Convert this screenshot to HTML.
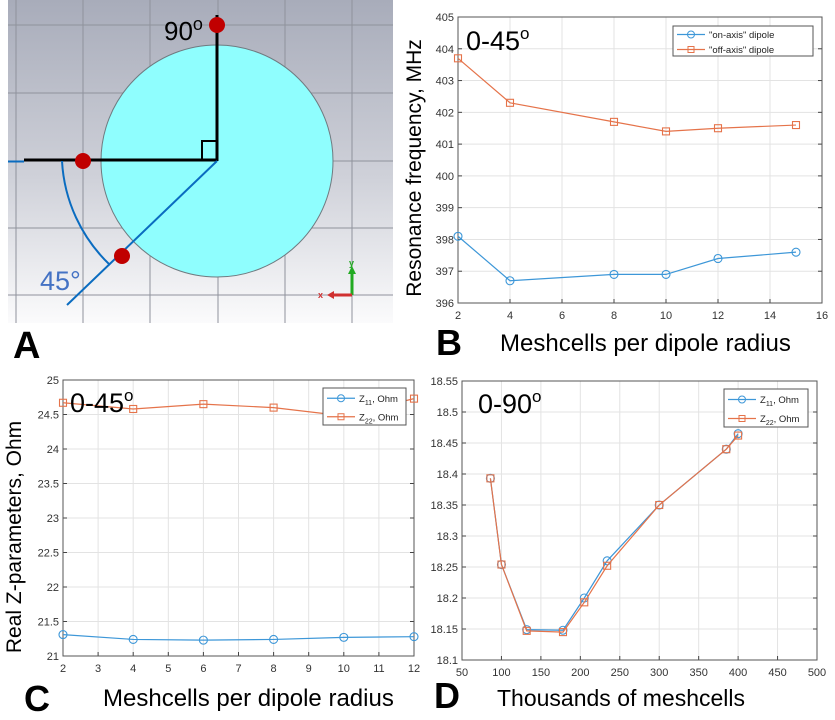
<!DOCTYPE html>
<html><head><meta charset="utf-8">
<style>
html,body{margin:0;padding:0;background:#fff;}
svg{display:block;font-family:"Liberation Sans",Arial,sans-serif;}
</style></head>
<body>
<svg id="fig" width="835" height="720" viewBox="0 0 835 720">
<defs>
<linearGradient id="bg" x1="0" y1="0" x2="0" y2="1">
<stop offset="0" stop-color="#a8acba"/><stop offset="0.55" stop-color="#cfd1d9"/><stop offset="1" stop-color="#fbfbfc"/>
</linearGradient>
</defs>
<g>
<rect x="8" y="0" width="385" height="323" fill="url(#bg)"/>
<g stroke="#8f929c" stroke-width="1">
<line x1="16" y1="0" x2="16" y2="323"/><line x1="83" y1="0" x2="83" y2="323"/><line x1="150" y1="0" x2="150" y2="323"/>
<line x1="218" y1="0" x2="218" y2="323"/><line x1="285" y1="0" x2="285" y2="323"/><line x1="352" y1="0" x2="352" y2="323"/>
<line x1="8" y1="25" x2="393" y2="25"/><line x1="8" y1="93" x2="393" y2="93"/><line x1="8" y1="161" x2="393" y2="161"/>
<line x1="8" y1="228" x2="393" y2="228"/><line x1="8" y1="295" x2="393" y2="295"/>
</g>
<circle cx="217" cy="161" r="116" fill="#8ffefe" stroke="#6f7a80" stroke-width="1"/>
<line x1="217" y1="15" x2="217" y2="161" stroke="#000" stroke-width="3"/>
<line x1="24" y1="160" x2="217" y2="160" stroke="#000" stroke-width="3"/>
<polyline points="202,160 202,141 217,141" fill="none" stroke="#000" stroke-width="2"/>
<line x1="8" y1="161.5" x2="24" y2="161.5" stroke="#0a6cc0" stroke-width="2"/>
<line x1="217" y1="161" x2="67" y2="305" stroke="#0a6cc0" stroke-width="2"/>
<path d="M62,161 A155,155 0 0 0 110,265" fill="none" stroke="#0a6cc0" stroke-width="2"/>
<circle cx="217" cy="25" r="8" fill="#c00000"/>
<circle cx="83" cy="161" r="8" fill="#c00000"/>
<circle cx="122" cy="256" r="8" fill="#c00000"/>
<text x="164" y="40" font-size="26" fill="#000">90<tspan font-size="18" dy="-10">o</tspan></text>
<text x="40" y="290" font-size="27" fill="#4472c4">45°</text>
<line x1="352" y1="295" x2="352" y2="272" stroke="#22aa22" stroke-width="3"/>
<polygon points="348,274 356,274 352,266" fill="#22aa22"/>
<line x1="352" y1="295" x2="332" y2="295" stroke="#d03030" stroke-width="3"/>
<polygon points="334,291 334,299 327,295" fill="#d03030"/>
<text x="349" y="266" font-size="9" fill="#22aa22" font-weight="bold">y</text>
<text x="318" y="298" font-size="9" fill="#d03030" font-weight="bold">x</text>
<text x="13" y="358" font-size="38" font-weight="bold">A</text>
</g>
<g id="charts"></g>
</svg>
<script>
// Panel B data
const bX = [2, 4, 8, 10, 12, 15];
const bOnAxis = [398.1, 396.7, 396.9, 396.9, 397.4, 397.6];
const bOffAxis = [403.7, 402.3, 401.7, 401.4, 401.5, 401.6];
const bXTicks = [2, 4, 6, 8, 10, 12, 14, 16];
const bYTicks = [396, 397, 398, 399, 400, 401, 402, 403, 404, 405];
// Panel C data
const cX = [2, 4, 6, 8, 10, 12];
const cZ11 = [21.31, 21.24, 21.23, 21.24, 21.27, 21.28];
const cZ22 = [24.67, 24.58, 24.65, 24.60, 24.48, 24.73];
const cXTicks = [2, 3, 4, 5, 6, 7, 8, 9, 10, 11, 12];
const cYTicks = [21, 21.5, 22, 22.5, 23, 23.5, 24, 24.5, 25];
// Panel D data
const dX = [86, 100, 132, 178, 205, 234, 300, 385, 400];
const dZ11 = [18.393, 18.254, 18.149, 18.148, 18.200, 18.260, 18.350, 18.440, 18.465];
const dZ22 = [18.393, 18.254, 18.147, 18.145, 18.193, 18.252, 18.350, 18.440, 18.462];
const dXTicks = [50, 100, 150, 200, 250, 300, 350, 400, 450, 500];
const dYTicks = [18.1, 18.15, 18.2, 18.25, 18.3, 18.35, 18.4, 18.45, 18.5, 18.55];

const NS = "http://www.w3.org/2000/svg";
const root = document.getElementById("charts");
const BLUE = "#3d97d8", ORANGE = "#e5734a";
function mk(tag, attrs, parent) {
  const e = document.createElementNS(NS, tag);
  for (const k in attrs) e.setAttribute(k, attrs[k]);
  (parent || root).appendChild(e);
  return e;
}
function chart(id, box, xd, yd, xt, yt, ylab, series, fmt) {
  const g = mk("g", {});
  
  
  const sx = v => box.x0 + (v - xd[0]) / (xd[1] - xd[0]) * (box.x1 - box.x0);
  const sy = v => box.y1 - (v - yd[0]) / (yd[1] - yd[0]) * (box.y1 - box.y0);
  mk("rect", {x: box.x0, y: box.y0, width: box.x1 - box.x0, height: box.y1 - box.y0, fill: "#fff"}, g);
  xt.forEach(t => {
    const x = sx(t);
    const l = mk("line", {x1: x, x2: x, y1: box.y0, y2: box.y1, stroke: "#e3e3e3"}, g);
    
    
    mk("line", {x1: x, x2: x, y1: box.y1, y2: box.y1 - 4, stroke: "#444"}, g);
    const tx = mk("text", {x: x, y: box.y1 + 16, "font-size": 11, fill: "#333", "text-anchor": "middle"}, g);
    
    
    tx.textContent = t;
  });
  yt.forEach(t => {
    const y = sy(t);
    const l = mk("line", {x1: box.x0, x2: box.x1, y1: y, y2: y, stroke: "#e3e3e3"}, g);
    
    
    mk("line", {x1: box.x0, x2: box.x0 + 4, y1: y, y2: y, stroke: "#444"}, g);
    mk("line", {x1: box.x1, x2: box.x1 - 4, y1: y, y2: y, stroke: "#444"}, g);
    const tx = mk("text", {x: box.x0 - 4, y: y + 4, "font-size": 11, fill: "#333", "text-anchor": "end"}, g);
    
    
    tx.textContent = fmt ? fmt(t) : t;
  });
  const fr = mk("rect", {x: box.x0, y: box.y0, width: box.x1 - box.x0, height: box.y1 - box.y0, fill: "none", stroke: "#555", "stroke-width": 1}, g);
  
  
  series.forEach(s => {
    const pts = s.x.map((v, i) => sx(v) + "," + sy(s.y[i])).join(" ");
    const pl = mk("polyline", {points: pts, fill: "none", stroke: s.color, "stroke-width": 1.2}, g);
    
    
    s.x.forEach((v, i) => {
      const cx = sx(v), cy = sy(s.y[i]);
      let m;
      if (s.marker === "o") m = mk("circle", {cx: cx, cy: cy, r: 4, fill: "none", stroke: s.color, "stroke-width": 1.1}, g);
      else m = mk("rect", {x: cx - 3.5, y: cy - 3.5, width: 7, height: 7, fill: "none", stroke: s.color, "stroke-width": 1.1}, g);
      
      
    });
  });
  return g;
}
function legend(g, x, y, w, h, items, fs) {
  const lg = mk("g", {}, g);
  
  
  mk("rect", {x: x, y: y, width: w, height: h, fill: "#fff", stroke: "#555"}, lg);
  items.forEach((it, i) => {
    const yy = y + h * (i + 0.5) / items.length + 1;
    mk("line", {x1: x + 4, x2: x + 32, y1: yy, y2: yy, stroke: it.color, "stroke-width": 1.2}, lg);
    if (it.marker === "o") mk("circle", {cx: x + 18, cy: yy, r: 3.5, fill: "none", stroke: it.color}, lg);
    else mk("rect", {x: x + 15, y: yy - 3, width: 6, height: 6, fill: "none", stroke: it.color}, lg);
    const t = mk("text", {x: x + 36, y: yy + 3.5, "font-size": fs, fill: "#222"}, lg);
    
    
    t.innerHTML = it.label;
  });
}
function txt(x, y, s, attrs, name) {
  const t = mk("text", Object.assign({x: x, y: y}, attrs));
  
  
  t.innerHTML = s;
  return t;
}

// Panel B
const gB = chart("panel-b-chart", {x0: 458, x1: 822, y0: 17, y1: 303}, [2, 16], [396, 405], bXTicks, bYTicks, "",
  [{name: "on-axis", x: bX, y: bOnAxis, color: BLUE, marker: "o"},
   {name: "off-axis", x: bX, y: bOffAxis, color: ORANGE, marker: "s"}]);
legend(gB, 673, 26, 140, 30, [
  {label: '"on-axis" dipole', color: BLUE, marker: "o"},
  {label: '"off-axis" dipole', color: ORANGE, marker: "s"}], 9.5);
txt(466, 50, '0-45<tspan font-size="17" dy="-11">o</tspan>', {"font-size": 27}, "panel-b-angle-label");
txt(0, 0, "Resonance frequency, MHz", {"font-size": 21, transform: "translate(421,168) rotate(-90)", "text-anchor": "middle"}, "panel-b-y-axis-title");
txt(500, 351, "Meshcells per dipole radius", {"font-size": 24}, "panel-b-x-axis-title");
txt(436, 355, "B", {"font-size": 36, "font-weight": "bold"}, "panel-label-b");

// Panel C
const gC = chart("panel-c-chart", {x0: 63, x1: 414, y0: 380, y1: 656}, [2, 12], [21, 25], cXTicks, cYTicks, "",
  [{name: "z11", x: cX, y: cZ11, color: BLUE, marker: "o"},
   {name: "z22", x: cX, y: cZ22, color: ORANGE, marker: "s"}]);
legend(gC, 323, 388, 83, 37, [
  {label: 'Z<tspan font-size="7" dy="3">11</tspan><tspan dy="-3">, Ohm</tspan>', color: BLUE, marker: "o"},
  {label: 'Z<tspan font-size="7" dy="3">22</tspan><tspan dy="-3">, Ohm</tspan>', color: ORANGE, marker: "s"}], 9.5);
txt(70, 412, '0-45<tspan font-size="17" dy="-11">o</tspan>', {"font-size": 27}, "panel-c-angle-label");
txt(0, 0, "Real Z-parameters, Ohm", {"font-size": 21, transform: "translate(21,537) rotate(-90)", "text-anchor": "middle"}, "panel-c-y-axis-title");
txt(103, 706, "Meshcells per dipole radius", {"font-size": 24}, "panel-c-x-axis-title");
txt(24, 711, "C", {"font-size": 36, "font-weight": "bold"}, "panel-label-c");

// Panel D
const gD = chart("panel-d-chart", {x0: 462, x1: 817, y0: 381, y1: 660}, [50, 500], [18.1, 18.55], dXTicks, dYTicks, "",
  [{name: "z11", x: dX, y: dZ11, color: BLUE, marker: "o"},
   {name: "z22", x: dX, y: dZ22, color: ORANGE, marker: "s"}], t => t.toFixed(2).replace(/0$/, ""));
legend(gD, 724, 389, 84, 38, [
  {label: 'Z<tspan font-size="7" dy="3">11</tspan><tspan dy="-3">, Ohm</tspan>', color: BLUE, marker: "o"},
  {label: 'Z<tspan font-size="7" dy="3">22</tspan><tspan dy="-3">, Ohm</tspan>', color: ORANGE, marker: "s"}], 9.5);
txt(478, 413, '0-90<tspan font-size="17" dy="-11">o</tspan>', {"font-size": 27}, "panel-d-angle-label");
txt(497, 706, "Thousands of meshcells", {"font-size": 23}, "panel-d-x-axis-title");
txt(434, 708, "D", {"font-size": 36, "font-weight": "bold"}, "panel-label-d");
</script>
</body></html>
